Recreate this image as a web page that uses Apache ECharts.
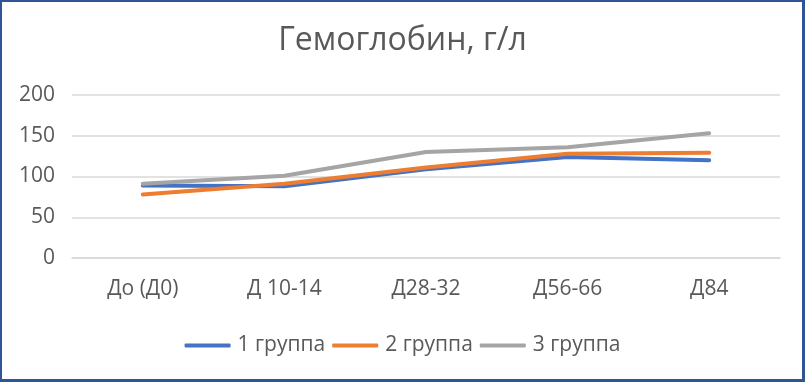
<!DOCTYPE html>
<html>
<head>
<meta charset="utf-8">
<script src="https://cdn.jsdelivr.net/npm/echarts@6/dist/echarts.min.js"></script>
<style>
  html, body { margin: 0; padding: 0; background: #fff; }
  #wrap { position: relative; width: 805px; height: 382px; }
  #chart { position: absolute; left: 0; top: 0; width: 805px; height: 382px; }
  #frame { position: absolute; left: 0; top: 0; width: 805px; height: 382px; box-sizing: border-box;
           border-style: solid; border-color: #2F5597; border-width: 2px 3px 3px 2px; pointer-events: none; }
</style>
</head>
<body>
<div id="wrap"><div id="chart"></div><div id="frame"></div></div>
<script>
const titleText = 'Гемоглобин, г/л';
const categories = ['До (Д0)', 'Д 10-14', 'Д28-32', 'Д56-66', 'Д84'];
const seriesNames = ['1 группа', '2 группа', '3 группа'];
const group1 = [89, 88, 109, 124, 120];
const group2 = [78, 91, 111, 128, 129];
const group3 = [91, 101, 130, 136, 153];
const yTicks = [0, 50, 100, 150, 200];

const colors = ['#4472C4', '#ED7D31', '#A5A5A5'];
const font = '"Open Sans", "Noto Sans", sans-serif';
const textColor = '#595959';

const chart = echarts.init(document.getElementById('chart'), null, { renderer: 'canvas' });
const values = [group1, group2, group3];
chart.setOption({
  animation: false,
  title: {
    text: titleText, left: 'center', top: 20,
    textStyle: { fontFamily: font, fontSize: 32, fontWeight: 'normal', color: textColor }
  },
  legend: {
    bottom: 21, left: 'center',
    itemWidth: 46, itemHeight: 4, itemGap: 7,
    icon: 'roundRect',
    textStyle: { fontFamily: font, fontSize: 21, color: textColor, padding: [0, 0, 0, 2] },
    data: seriesNames
  },
  grid: { left: 72, right: 25, top: 95, bottom: 124, containLabel: false },
  xAxis: {
    type: 'category', data: categories, boundaryGap: true,
    axisLine: { show: true, lineStyle: { color: '#D9D9D9', width: 1.5 } },
    axisTick: { show: false },
    axisLabel: { fontFamily: font, fontSize: 21, color: textColor, margin: 21 }
  },
  yAxis: {
    type: 'value', min: yTicks[0], max: yTicks[yTicks.length - 1], interval: 50,
    axisLine: { show: false }, axisTick: { show: false },
    splitLine: { lineStyle: { color: '#D9D9D9', width: 1.5 } },
    axisLabel: { fontFamily: font, fontSize: 21, color: textColor, margin: 17 }
  },
  series: seriesNames.map((n, i) => ({
    name: n, type: 'line', data: values[i],
    symbol: 'none', smooth: false,
    lineStyle: { color: colors[i], width: 4, cap: 'round', join: 'round' },
    itemStyle: { color: colors[i] }
  }))
});
</script>
</body>
</html>
